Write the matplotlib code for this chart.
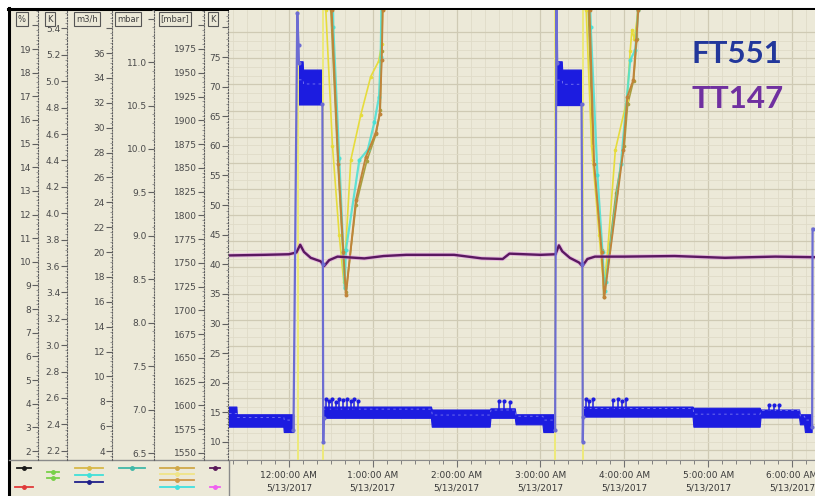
"""SCADA trend: FT551 / TT147 on the night of 5/13/2017"""

import numpy as np
import matplotlib.pyplot as plt
from matplotlib.patches import Rectangle
from matplotlib.ticker import MultipleLocator, FixedLocator, FuncFormatter

nan = np.nan

# time axis in hours after 12:00:00 AM 5/13/2017
hour_ticks = [0, 1, 2, 3, 4, 5, 6]
hour_labels = ["12:00:00 AM", "1:00:00 AM", "2:00:00 AM", "3:00:00 AM",
               "4:00:00 AM", "5:00:00 AM", "6:00:00 AM"]
date_label = "5/13/2017"

# FT551 (blue): envelope of the noisy band, NaN splits the segments
ft_t = [-0.714, -0.62, -0.615, -0.06, -0.055, 0.06, nan,
        0.12, 0.17, 0.175, 0.40, nan,
        0.41, 1.70, 1.71, 2.40, 2.41, 2.70, 2.71, 3.03, 3.04, 3.17, nan,
        3.20, 3.26, 3.265, 3.49, nan,
        3.51, 4.82, 4.83, 5.62, 5.63, 6.09, 6.10, 6.15, 6.16, 6.24]
ft_lo = [12.5, 12.5, 12.5, 12.5, 11.6, 11.6, nan,
         66.9, 66.9, 66.9, 66.9, nan,
         14.0, 14.0, 12.5, 12.5, 14.0, 14.0, 12.9, 12.9, 11.6, 11.6, nan,
         66.8, 66.8, 66.8, 66.8, nan,
         14.2, 14.2, 12.5, 12.5, 14.05, 14.05, 12.9, 12.9, 11.6, 11.6]
ft_hi = [15.9, 15.9, 14.6, 14.6, 14.6, 14.6, nan,
         74.2, 74.2, 72.8, 72.8, nan,
         15.9, 15.9, 15.4, 15.4, 15.6, 15.6, 14.6, 14.6, 14.6, 14.6, nan,
         74.2, 74.2, 72.8, 72.8, nan,
         15.9, 15.9, 15.7, 15.7, 15.4, 15.4, 14.6, 14.6, 14.6, 14.6]

# FT551 jumps between the low and the high level
ft_jump_t = [0.055, 0.10, 0.115, 0.12, nan, 0.40, 0.405, 0.41, 0.415, nan,
             3.175, 3.19, 3.20, nan, 3.49, 3.50, 3.505, 3.51, nan, 6.24, 6.245]
ft_jump_v = [12.0, 82.5, 77.0, 74.0, nan, 67.0, 40.0, 10.0, 14.0, nan,
             12.0, 85.0, 74.0, nan, 67.0, 40.0, 10.0, 14.2, nan, 12.5, 46.0]

# FT551 short spikes above the band
ft_spike_t = [0.44, 0.48, 0.52, 0.56, 0.60, 0.64, 0.69, 0.74, 0.78, 0.83,
              2.50, 2.57, 2.64, 3.54, 3.58, 3.63, 3.87, 3.92, 3.97, 4.02,
              5.72, 5.78, 5.85]
ft_spike_v = [17.3, 17.0, 17.3, 16.8, 17.3, 17.1, 17.3, 16.9, 17.2, 17.0,
              16.9, 17.0, 16.8, 17.3, 17.0, 17.3, 17.1, 17.3, 17.0, 17.2,
              16.3, 16.2, 16.3]

# TT147 (purple)
tt_t = [-0.714, -0.3, 0.0, 0.09, 0.135, 0.18, 0.26, 0.38, 0.42, 0.48, 0.58,
        0.9, 1.13, 1.4, 1.97, 2.3, 2.55, 2.63, 3.0, 3.18, 3.22, 3.26, 3.35,
        3.46, 3.50, 3.56, 3.65, 4.0, 4.6, 5.2, 5.8, 6.274]
tt_v = [41.5, 41.6, 41.7, 42.0, 43.3, 42.1, 41.1, 40.5, 39.7, 40.7, 41.3,
        41.0, 41.4, 41.6, 41.6, 41.0, 40.9, 41.8, 41.6, 41.7, 43.2, 42.2, 41.1,
        40.3, 39.7, 40.9, 41.3, 41.3, 41.4, 41.1, 41.3, 41.2]

# V shaped temperature traces
yellow_t = [0.42, 0.44, 0.52, 0.60, 0.655, 0.738, 0.857, 0.976, 1.071, 1.107, 1.119, 1.125, nan,
            3.53, 3.545, 3.61, 3.70, 3.755, 3.80, 3.893, 4.032, 4.07, 4.091, 4.12, 4.167, 4.18]
yellow_v = [90, 83, 60, 45, 37, 57.6, 65.2, 71.7, 74.3, 77.2, 83, 90, nan,
            90, 83, 60, 45, 36, 42, 59.3, 67.8, 76, 79.6, 78, 83, 90]

cyan_t = [0.52, 0.53, 0.60, 0.65, 0.665, 0.68, 0.84, 0.94, 1.02, 1.075, 1.095, 1.11, nan,
          3.58, 3.60, 3.68, 3.74, 3.765, 3.78, 3.96, 4.071, 4.131, 4.167, 4.18]
cyan_v = [90, 80, 58, 42, 36, 42.4, 57.6, 59.3, 64, 68.3, 75, 90, nan,
          90, 80, 55, 42, 35.5, 37, 57, 74.5, 76.2, 83, 90]

orange_t = [0.50, 0.51, 0.59, 0.65, 0.68, 0.80, 0.917, 1.036, 1.083, 1.107, 1.119, 1.125, nan,
            3.575, 3.585, 3.64, 3.73, 3.762, 3.988, 4.036, 4.107, 4.143, 4.167, 4.175]
orange_v = [90, 83, 57, 42, 34.8, 50.9, 58.1, 62.2, 65.3, 74.5, 83, 90, nan,
            90, 83, 57, 42, 34.5, 59.3, 68.3, 71.1, 77.9, 83, 90]

olive_t = [0.49, 0.50, 0.583, 0.643, 0.68, 0.80, 0.93, 1.04, 1.09, 1.105, 1.115, nan,
           3.56, 3.571, 3.631, 3.735, 3.754, 3.90, 4.0, 4.04, 4.11, 4.15, 4.17]
olive_v = [90, 83, 57.6, 42.4, 35.3, 50, 57.5, 62, 66, 76, 90, nan,
           90, 83, 57.6, 42.4, 34.5, 52, 60, 67, 71, 78, 90]

# light yellow switching trace (vertical edges)
switch_t = [0.107, 0.107, nan, 0.405, 0.405, nan, 3.175, 3.175, nan, 3.51, 3.51]
switch_v = [5, 90, nan, 90, 5, nan, 5, 90, nan, 90, 5]

# left scales: unit, limits, tick step, label format, highest labelled value
scale_units = ["%", "K", "m3/h", "mbar", "[mbar]", "K"]
scale_lims = [(1.62, 20.65), (2.13, 5.54), (3.28, 39.46), (6.42, 11.6),
              (1542.6, 2016), (6.96, 82.94)]
scale_steps = [1, 0.2, 2, 0.5, 25, 5]
scale_fmts = ["{:.0f}", "{:.1f}", "{:.0f}", "{:.1f}", "{:.0f}", "{:.0f}"]
scale_label_max = [19, 5.4, 36, 11.0, 1975, 75]

# ---- layout (pixels) ----
W, H = 815, 496
BG = "#ece9d8"
TOP, BOTTOM, LEFT = 10, 460, 229
scale_x = [38, 67, 112, 154, 204, 228]
box_x = [22, 50, 87, 128, 175, 213]
# legend swatches under each scale: centre x, half width, y, colour
swatches = [(24, 7, 468, "#1a1a1a"), (24, 9, 487, "#e03a3a"),
            (53, 6, 472, "#78d048"), (53, 6, 478, "#78d048"),
            (89, 14, 468, "#d8b848"), (89, 14, 475, "#40e0d8"), (89, 14, 482, "#20208a"),
            (132, 13, 468, "#40b8a8"),
            (177, 17, 468, "#d0a848"), (177, 17, 474, "#f0e488"),
            (177, 17, 480, "#d09848"), (177, 17, 487, "#40e0e0"),
            (215, 5, 468, "#5a1a5a"), (215, 5, 487, "#f060f0")]

fig = plt.figure(figsize=(W / 100, H / 100), dpi=100, facecolor="white")

# canvas in pixel coordinates: background, frame, legend area
bg = fig.add_axes([0, 0, 1, 1], zorder=0)
bg.set_xlim(0, W)
bg.set_ylim(H, 0)
bg.axis("off")
bg.add_patch(Rectangle((9, 9), W, H, color=BG))
bg.plot([8, W], [8.5, 8.5], color="black", lw=2.2)
bg.plot([8.5, 8.5], [8, H], color="black", lw=2.2)
bg.plot([9, LEFT], [BOTTOM, BOTTOM], color="#8a8a8a", lw=1)
bg.plot([LEFT - 0.5, LEFT - 0.5], [BOTTOM, H], color="#8a8a8a", lw=1)
for cx, hw, y, c in swatches:
    bg.plot([cx - hw, cx + hw], [y, y], color=c, lw=1.3)
    bg.plot([cx], [y], marker="o", ms=2.5, color=c)

# main trend area
ax = fig.add_axes([LEFT / W, 1 - BOTTOM / H, (W - LEFT) / W, (BOTTOM - TOP) / H], zorder=1)
ax.set_facecolor(BG)
ax.set_xlim(-0.714, 6.274)
ax.set_ylim(*scale_lims[5])

grid_major = np.arange(79.21, 8.0, -4.415)
ax.yaxis.set_major_locator(FixedLocator(grid_major))
ax.yaxis.set_minor_locator(FixedLocator(np.arange(79.21, 7.0, -4.415 / 3)))
ax.set_xticks(hour_ticks, labels=[f"{h}\n{date_label}" for h in hour_labels])
ax.xaxis.set_minor_locator(MultipleLocator(1 / 6))
ax.tick_params(axis="y", which="both", left=False, labelleft=False)
ax.tick_params(axis="x", which="major", length=5, color="#707070",
               labelsize=6.5, labelcolor="#3a3a3a", pad=3)
ax.tick_params(axis="x", which="minor", length=3, color="#707070")
for lbl in ax.get_xticklabels():
    lbl.set_linespacing(1.45)
ax.grid(which="major", color="#cfcab4", lw=0.9)
ax.grid(which="minor", color="#dfdbc8", lw=0.6)
ax.set_axisbelow(True)
for s in ("top", "right", "left"):
    ax.spines[s].set_visible(False)
ax.spines["bottom"].set_color("#8a8a8a")

ax.plot(switch_t, switch_v, color="#eeea7a", lw=1.4)
ax.plot(olive_t, olive_v, color="#a8a040", lw=1.2, marker="o", ms=1.6)
ax.plot(yellow_t, yellow_v, color="#e6dc3c", lw=1.2, marker="o", ms=1.6)
ax.plot(cyan_t, cyan_v, color="#48e0d4", lw=1.6, marker="o", ms=2.0, alpha=0.85)
ax.plot(orange_t, orange_v, color="#c0843a", lw=1.4, marker="o", ms=1.8)

ax.plot(tt_t, tt_v, color="#e08ae0", lw=3.0, alpha=0.5)
ax.plot(tt_t, tt_v, color="#5a1860", lw=1.7)

ax.fill_between(ft_t, ft_lo, ft_hi, color="#1c1ce0", lw=0.8)
mid = (np.array(ft_lo) + np.array(ft_hi)) / 2
ax.plot(ft_t, mid + 0.6, color="#7a7af0", lw=0.6, ls=(0, (3, 4)))
ax.vlines(ft_spike_t, 15.0, ft_spike_v, color="#1c1ce0", lw=1.1)
ax.plot(ft_spike_t, ft_spike_v, "o", color="#1c1ce0", ms=2)
ax.plot(ft_jump_t, ft_jump_v, color="#6c6cd2", lw=1.6, marker="o", ms=2)

# scales on the left
for i, unit in enumerate(scale_units):
    sa = fig.add_axes([scale_x[i] / W, 1 - BOTTOM / H, 0.5 / W, (BOTTOM - TOP) / H], zorder=2)
    sa.set_ylim(*scale_lims[i])
    sa.patch.set_visible(False)
    for s in ("top", "right", "bottom"):
        sa.spines[s].set_visible(False)
    sa.spines["left"].set_linestyle((0, (1, 1.6)))
    sa.spines["left"].set_color("#606060")
    sa.xaxis.set_visible(False)
    sa.yaxis.set_major_locator(MultipleLocator(scale_steps[i]))
    sa.yaxis.set_minor_locator(MultipleLocator(scale_steps[i] / 5))
    sa.yaxis.set_major_formatter(FuncFormatter(
        lambda v, p, f=scale_fmts[i], m=scale_label_max[i]: f.format(v) if v <= m + 1e-6 else ""))
    sa.tick_params(axis="y", which="major", length=4, width=0.8, color="#606060",
                   labelsize=6.5, labelcolor="#4a4a4a", pad=1)
    sa.tick_params(axis="y", which="minor", length=1.5, width=0.6, color="#8a8a8a")
    fig.text(box_x[i] / W, 1 - 19 / H, unit, ha="center", va="center", fontsize=6,
             color="#404040", zorder=5,
             bbox=dict(boxstyle="square,pad=0.25", fc=BG, ec="#555555", lw=0.8))

fig.text(692 / W, 1 - 62.7 / H, "FT551", family="Lato", fontweight="bold",
         fontsize=22.5, color="#22379b", va="baseline", ha="left", zorder=6)
fig.text(692 / W, 1 - 107.5 / H, "TT147", family="Lato", fontweight="bold",
         fontsize=22.5, color="#7030a0", va="baseline", ha="left", zorder=6)

plt.savefig("out.png", dpi=100, facecolor="white")
plt.close()
